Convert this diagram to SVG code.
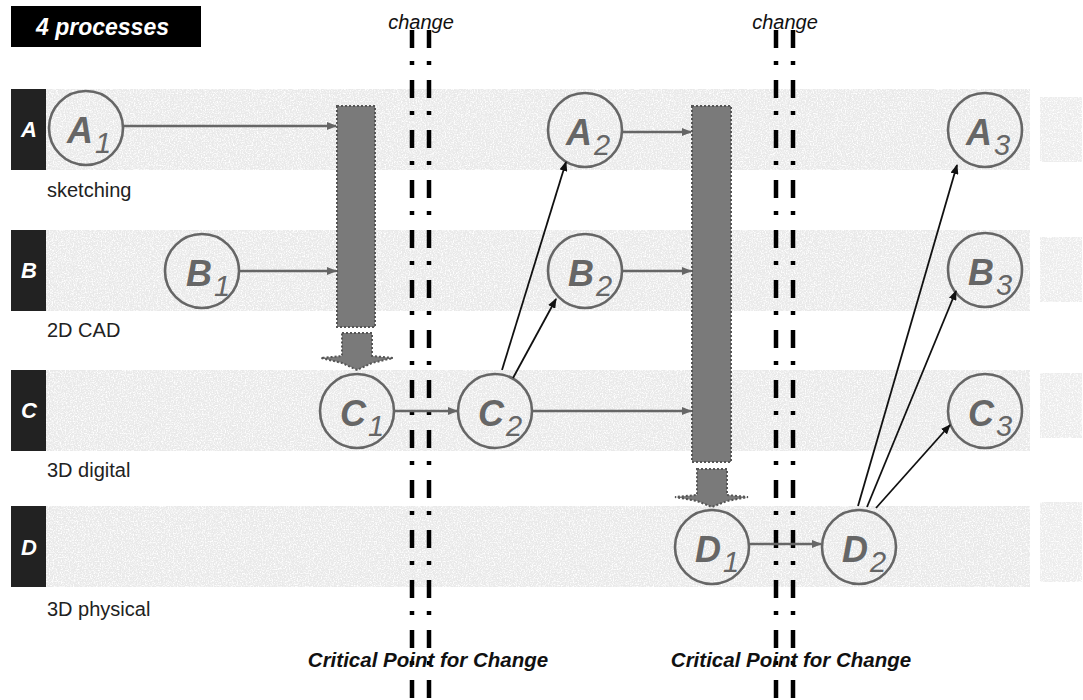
<svg xmlns="http://www.w3.org/2000/svg" width="1083" height="700" viewBox="0 0 1083 700">
  <defs>
    <style>
      .band { fill: #e9e9e9; filter: url(#grain); }
      .strip { fill: #ececec; filter: url(#grain); }
      .tab { fill: #222; }
      .tabtxt { font-family: "Liberation Sans", Arial, sans-serif; font-weight: bold; font-style: italic; font-size: 22px; fill: #fff; text-anchor: middle; }
      .lane { font-family: "Liberation Sans", Arial, sans-serif; font-size: 20px; fill: #222; }
      .node { fill: none; stroke: #666; stroke-width: 2.6; }
      .ntxt { font-family: "Liberation Sans", Arial, sans-serif; font-weight: bold; font-style: italic; font-size: 36px; fill: #666; }
      .nsub { font-weight: normal; font-size: 29px; }
      .bar { fill: #7a7a7a; stroke: #555; stroke-width: 2; stroke-dasharray: 2 2; }
      .cut { stroke: #000; stroke-width: 4.5; stroke-dasharray: 18 13 4 15; fill: none; }
      .grey { stroke: #666; stroke-width: 2.5; fill: none; marker-end: url(#hg); }
      .black { stroke: #111; stroke-width: 1.8; fill: none; marker-end: url(#hb); }
      .chg { font-family: "Liberation Sans", Arial, sans-serif; font-style: italic; font-size: 20px; fill: #111; text-anchor: middle; }
      .crit { font-family: "Liberation Sans", Arial, sans-serif; font-weight: bold; font-style: italic; font-size: 20.5px; fill: #111; text-anchor: middle; }
    </style>
    <!-- speckled paper texture for the lane bands -->
    <filter id="grain" x="0" y="0" width="100%" height="100%">
      <feTurbulence type="fractalNoise" baseFrequency="0.75" numOctaves="2" seed="4" result="noise"/>
      <feColorMatrix in="noise" type="matrix" values="0 0 0 0 1  0 0 0 0 1  0 0 0 0 1  3 0 0 0 -1.3" result="white"/>
      <feComposite in="white" in2="SourceGraphic" operator="in" result="specks"/>
      <feMerge><feMergeNode in="SourceGraphic"/><feMergeNode in="specks"/></feMerge>
    </filter>
    <marker id="hg" markerWidth="10" markerHeight="8" refX="9" refY="4" orient="auto" markerUnits="userSpaceOnUse">
      <path d="M0,0 L10,4 L0,8 Z" fill="#666"/>
    </marker>
    <marker id="hb" markerWidth="10" markerHeight="8" refX="9" refY="4" orient="auto" markerUnits="userSpaceOnUse">
      <path d="M0,0 L10,4 L0,8 Z" fill="#111"/>
    </marker>
  </defs>

  <rect width="1083" height="700" fill="#fff"/>

  <!-- title -->
  <g id="title">
    <rect x="11" y="6" width="190" height="41" fill="#000"/>
    <text x="36" y="35" font-family="Liberation Sans, Arial, sans-serif" font-weight="bold" font-style="italic" font-size="23" fill="#fff">4 processes</text>
  </g>

  <!-- lanes -->
  <g id="lane-A">
    <rect class="band" x="46" y="89" width="984" height="81"/>
    <rect class="strip" x="1040" y="97" width="42" height="65"/>
    <rect class="tab" x="11" y="89" width="35" height="81"/>
    <text class="tabtxt" x="29" y="137">A</text>
    <text class="lane" x="47" y="197">sketching</text>
  </g>
  <g id="lane-B">
    <rect class="band" x="46" y="230" width="984" height="81"/>
    <rect class="strip" x="1040" y="237" width="42" height="65"/>
    <rect class="tab" x="11" y="230" width="35" height="81"/>
    <text class="tabtxt" x="29" y="278">B</text>
    <text class="lane" x="47" y="337">2D CAD</text>
  </g>
  <g id="lane-C">
    <rect class="band" x="46" y="370" width="984" height="81"/>
    <rect class="strip" x="1040" y="373" width="42" height="65"/>
    <rect class="tab" x="11" y="370" width="35" height="81"/>
    <text class="tabtxt" x="29" y="418">C</text>
    <text class="lane" x="47" y="477">3D digital</text>
  </g>
  <g id="lane-D">
    <rect class="band" x="46" y="506" width="984" height="81"/>
    <rect class="strip" x="1040" y="502" width="42" height="80"/>
    <rect class="tab" x="11" y="506" width="35" height="81"/>
    <text class="tabtxt" x="29" y="555">D</text>
    <text class="lane" x="47" y="616">3D physical</text>
  </g>

  <!-- merge bars -->
  <g id="merge-1">
    <rect class="bar" x="337" y="106" width="38" height="221"/>
    <path class="bar" d="M342,333 H372 V356 L393,358 L372,363 L357,370 L342,363 L321,358 L342,356 Z"/>
  </g>
  <g id="merge-2">
    <rect class="bar" x="692" y="106" width="39" height="356"/>
    <path class="bar" d="M697,469 H727 V495 L748,497 L727,501 L712,507 L697,501 L675,497 L697,495 Z"/>
  </g>

  <!-- change cut lines -->
  <g id="cut-1">
    <line class="cut" x1="412" y1="30" x2="412" y2="700"/>
    <line class="cut" x1="429" y1="30" x2="429" y2="700"/>
    <text class="chg" x="421" y="29">change</text>
    <text class="crit" x="428" y="667">Critical Point for Change</text>
  </g>
  <g id="cut-2">
    <line class="cut" x1="776" y1="30" x2="776" y2="700"/>
    <line class="cut" x1="793" y1="30" x2="793" y2="700"/>
    <text class="chg" x="785" y="29">change</text>
    <text class="crit" x="791" y="667">Critical Point for Change</text>
  </g>

  <!-- nodes -->
  <g id="A1"><circle class="node" cx="86" cy="128" r="37"/><text class="ntxt" x="67" y="143">A<tspan class="nsub" dx="2" dy="10">1</tspan></text></g>
  <g id="B1"><circle class="node" cx="202" cy="271" r="37"/><text class="ntxt" x="186" y="286">B<tspan class="nsub" dx="2" dy="10">1</tspan></text></g>
  <g id="C1"><circle class="node" cx="357" cy="411" r="37"/><text class="ntxt" x="340" y="426">C<tspan class="nsub" dx="2" dy="10">1</tspan></text></g>
  <g id="C2"><circle class="node" cx="495" cy="411" r="37"/><text class="ntxt" x="478" y="426">C<tspan class="nsub" dx="2" dy="10">2</tspan></text></g>
  <g id="A2"><circle class="node" cx="585" cy="130" r="37"/><text class="ntxt" x="566" y="145">A<tspan class="nsub" dx="2" dy="10">2</tspan></text></g>
  <g id="B2"><circle class="node" cx="585" cy="271" r="37"/><text class="ntxt" x="568" y="286">B<tspan class="nsub" dx="2" dy="10">2</tspan></text></g>
  <g id="D1"><circle class="node" cx="712" cy="547" r="37"/><text class="ntxt" x="695" y="562">D<tspan class="nsub" dx="2" dy="10">1</tspan></text></g>
  <g id="D2"><circle class="node" cx="859" cy="547" r="37"/><text class="ntxt" x="842" y="562">D<tspan class="nsub" dx="2" dy="10">2</tspan></text></g>
  <g id="A3"><circle class="node" cx="985" cy="130" r="37"/><text class="ntxt" x="966" y="145">A<tspan class="nsub" dx="2" dy="10">3</tspan></text></g>
  <g id="B3"><circle class="node" cx="985" cy="270" r="37"/><text class="ntxt" x="968" y="285">B<tspan class="nsub" dx="2" dy="10">3</tspan></text></g>
  <g id="C3"><circle class="node" cx="985" cy="411" r="37"/><text class="ntxt" x="968" y="426">C<tspan class="nsub" dx="2" dy="10">3</tspan></text></g>

  <!-- connectors -->
  <g id="connectors">
    <line class="grey" x1="123" y1="126" x2="336" y2="126"/>
    <line class="grey" x1="239" y1="271" x2="336" y2="271"/>
    <line class="grey" x1="394" y1="411" x2="457" y2="411"/>
    <line class="grey" x1="532" y1="411" x2="691" y2="411"/>
    <line class="grey" x1="622" y1="132" x2="691" y2="132"/>
    <line class="grey" x1="622" y1="271" x2="691" y2="271"/>
    <line class="grey" x1="749" y1="544" x2="821" y2="544"/>
    <line class="black" x1="502" y1="370" x2="566" y2="162"/>
    <line class="black" x1="513" y1="378" x2="556" y2="299"/>
    <line class="black" x1="858" y1="506" x2="957" y2="165"/>
    <line class="black" x1="867" y1="507" x2="956" y2="291"/>
    <line class="black" x1="876" y1="508" x2="950" y2="425"/>
  </g>
</svg>
